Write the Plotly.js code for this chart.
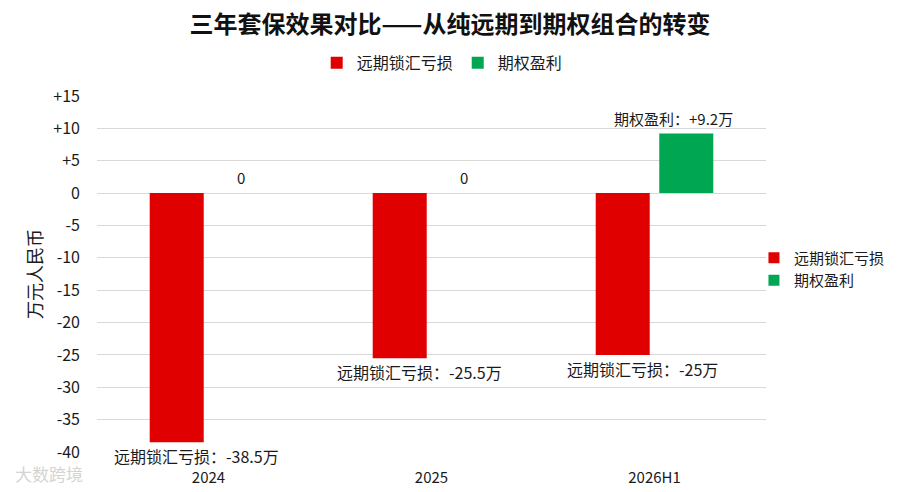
<!DOCTYPE html>
<html>
<head>
<meta charset="utf-8">
<script src="https://cdn.plot.ly/plotly-3.0.1.min.js"></script>
<style>html,body{margin:0;padding:0;background:#fff;}#chart{width:900px;height:492px;}</style>
</head>
<body>
<div id="chart"></div>
<script>
// ---- data ----
const categories = ['2024', '2025', '2026H1'];
const forwardLoss = [-38.5, -25.5, -25];
const optionProfit = [0, 0, 9.2];
const seriesNames = ['远期锁汇亏损', '期权盈利'];
const yTickVals = [15, 10, 5, 0, -5, -10, -15, -20, -25, -30, -35, -40];
const yTickText = ['+15', '+10', '+5', '0', '-5', '-10', '-15', '-20', '-25', '-30', '-35', '-40'];
const titleText = '三年套保效果对比——从纯远期到期权组合的转变';
const yTitleText = '万元人民币';
const watermarkText = '大数跨境';

// ---- style ----
const RED = '#E00000';
const GREEN = '#00A651';
const FONT = '"Noto Sans CJK SC", "Noto Sans", sans-serif';

const traces = [
  {type: 'bar', name: seriesNames[0], x: categories, y: forwardLoss,
   marker: {color: RED}, legend: 'legend', hoverinfo: 'skip'},
  {type: 'bar', name: seriesNames[1], x: categories, y: optionProfit,
   marker: {color: GREEN}, legend: 'legend', hoverinfo: 'skip'},
  // duplicate legend on the right (no visible marks)
  {type: 'scatter', mode: 'markers', name: seriesNames[0], x: [categories[0]], y: [null],
   marker: {color: RED, symbol: 'square', size: 11}, legend: 'legend2', hoverinfo: 'skip'},
  {type: 'scatter', mode: 'markers', name: seriesNames[1], x: [categories[0]], y: [null],
   marker: {color: GREEN, symbol: 'square', size: 11}, legend: 'legend2', hoverinfo: 'skip'}
];

const annotations = [];
categories.forEach((c, i) => {
  annotations.push({
    x: i, y: forwardLoss[i], xref: 'x', yref: 'y',
    text: seriesNames[0] + '：' + forwardLoss[i] + '万',
    showarrow: false, yanchor: 'top', xanchor: 'center',
    xshift: -12, yshift: -1, borderpad: 0,
    font: {family: FONT, size: 16, color: '#1a1a1a'}
  });
  const v = optionProfit[i];
  annotations.push({
    x: i, y: v, xref: 'x', yref: 'y',
    text: v > 0 ? (seriesNames[1] + '：+' + v + '万') : String(v),
    showarrow: false, yanchor: 'bottom', xanchor: 'center',
    xshift: v > 0 ? 19 : 32, yshift: 4, borderpad: 0,
    font: {family: FONT, size: 15, color: '#1a1a1a'}
  });
});
annotations.push({
  xref: 'paper', yref: 'paper', x: -0.125, y: -0.06, xanchor: 'left', yanchor: 'middle',
  text: watermarkText, showarrow: false,
  font: {family: FONT, size: 17, color: '#d4d4d4'}
});

const layout = {
  width: 900, height: 492,
  paper_bgcolor: '#ffffff', plot_bgcolor: '#ffffff',
  margin: {l: 97, r: 134, t: 96, b: 40, autoexpand: false},
  font: {family: FONT, color: '#1a1a1a'},
  title: {text: '<b>' + titleText + '</b>', x: 0.5, xref: 'container', xanchor: 'center',
          y: 0.95, yref: 'container', yanchor: 'middle',
          font: {family: FONT, size: 24, color: '#111'}},
  barmode: 'group', bargap: 0.43, bargroupgap: 0.15,
  xaxis: {type: 'category', categoryorder: 'array', categoryarray: categories,
          range: [-0.5, categories.length - 0.5], autorange: false,
          showgrid: false, zeroline: false, showline: false,
          ticks: '', ticklabelstandoff: 15,
          tickfont: {family: FONT, size: 15, color: '#1a1a1a'}},
  yaxis: {range: [-40, 15], autorange: false, tickvals: yTickVals, ticktext: yTickText,
          showgrid: true, gridcolor: '#d9d9d9', gridwidth: 1,
          zeroline: false, showline: false, ticks: '', ticklabelstandoff: 16,
          tickfont: {family: FONT, size: 16, color: '#1a1a1a'},
          title: {text: yTitleText, standoff: 6, font: {family: FONT, size: 18, color: '#1a1a1a'}}},
  legend: {orientation: 'h', x: 0.516, xanchor: 'center', y: 1.093, yanchor: 'middle',
           font: {family: FONT, size: 16, color: '#1a1a1a'}, itemwidth: 30,
           bgcolor: 'rgba(0,0,0,0)', traceorder: 'normal'},
  legend2: {orientation: 'v', x: 0.982, xanchor: 'left', y: 0.514, yanchor: 'middle',
            font: {family: FONT, size: 15, color: '#1a1a1a'}, itemwidth: 30,
            bgcolor: 'rgba(0,0,0,0)', traceorder: 'normal'},
  annotations: annotations,
  hovermode: false
};

Plotly.newPlot('chart', traces, layout, {staticPlot: true, displayModeBar: false});
</script>
</body>
</html>
